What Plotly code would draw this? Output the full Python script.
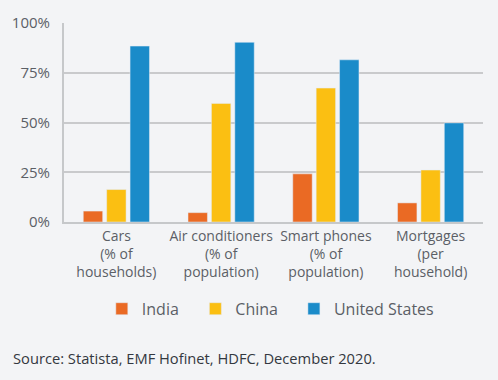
import plotly.graph_objects as go

categories = ["Cars<br>(% of<br>households)", "Air conditioners<br>(% of<br>population)",
              "Smart phones<br>(% of<br>population)", "Mortgages<br>(per<br>household)"]
india = [5.5, 4.7, 24.2, 9.6]
china = [16.3, 59.6, 67.3, 26.1]
us = [88.4, 90.3, 81.5, 49.8]
y_ticks = [0, 25, 50, 75, 100]
y_labels = ["0%", "25%", "50%", "75%", "100%"]

FONT = "Open Sans"
TXT = "#5b5f66"
L, R, T, B = 62, 15, 18, 158
W, H = 498, 380
PW = W - L - R
PH = H - T - B

fig = go.Figure()
fig.add_bar(x=categories, y=india, name="India", marker_color="#EA6A24", legend="legend")
fig.add_bar(x=categories, y=china, name="China", marker_color="#FBBF12", legend="legend2")
fig.add_bar(x=categories, y=us, name="United States", marker_color="#1A8BC9", legend="legend3")


def leg(px_left):
    return dict(orientation="h", x=(px_left - L) / PW, xanchor="left",
                y=-(311 - (H - B)) / PH, yanchor="middle",
                font=dict(size=16, color=TXT), bgcolor="rgba(0,0,0,0)")


fig.update_layout(
    width=W, height=H,
    margin=dict(l=L, r=R, t=T, b=B),
    paper_bgcolor="#f3f4f6", plot_bgcolor="#f3f4f6",
    barmode="group", bargap=0.33, bargroupgap=0.17,
    font=dict(family=FONT, color=TXT, size=13),
    showlegend=True,
    legend=leg(100), legend2=leg(194), legend3=leg(293),
    xaxis=dict(showline=True, linecolor="#c6c8ca", linewidth=2, tickfont=dict(size=14, color=TXT),
               ticks=""),
    yaxis=dict(range=[0, 100], tickvals=y_ticks, ticktext=y_labels, showgrid=True,
               gridcolor="#c9cacc", gridwidth=1.5, showline=True, linecolor="#c6c8ca", linewidth=2,
               tickfont=dict(size=15, color=TXT), zeroline=False, ticks="", ticklabelstandoff=9),
    annotations=[dict(text="Source: Statista, EMF Hofinet, HDFC, December 2020.", xref="paper", yref="paper",
                      x=-L / PW, xanchor="left", y=-(361 - (H - B)) / PH, yanchor="middle", showarrow=False,
                      font=dict(size=14.7, color="#333840"), xshift=9)],
)
fig.write_html("out.html", post_script="document.body.style.margin='0';",
               config={"displayModeBar": False})
